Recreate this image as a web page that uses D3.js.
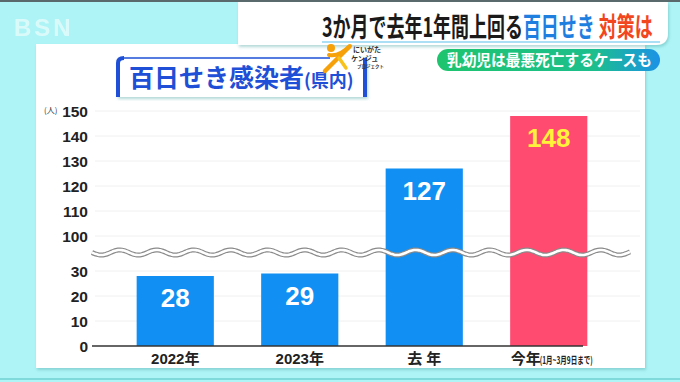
<!DOCTYPE html>
<html>
<head>
<meta charset="utf-8">
<script src="https://cdn.jsdelivr.net/npm/d3@7"></script>
<style>
  body { margin: 0; background: #aef4f6; overflow: hidden; }
  svg { display: block; }
  .num { font-family: "Liberation Sans", "Noto Sans CJK JP", sans-serif; font-weight: bold; }
  .jp { font-family: "Noto Sans CJK JP", sans-serif; font-weight: bold; }
</style>
</head>
<body>
<script>
// data
const years = ['2022年', '2023年', '去 年', '今年'];
const cases = [28, 29, 127, 148];
const lowTicks = [0, 10, 20, 30];
const highTicks = [100, 110, 120, 130, 140, 150];
const yearNote = '(1月~3月9日まで)';

const W = 680, H = 382;

let svg = d3.select('body').append('svg')
    .attr('width', W)
    .attr('height', H)

/** background bits */
svg.append('rect').attr('width', W).attr('height', H).attr('fill', '#aef4f6')
svg.append('rect').attr('width', W).attr('height', 2).attr('fill', '#5a6a6c')
svg.append('rect').attr('y', 378).attr('width', W).attr('height', 2).attr('fill', '#7fdadc')

svg.append('text')
    .attr('x', 14).attr('y', 36)
    .attr('class', 'num')
    .style('font-size', '24px')
    .style('letter-spacing', '3px')
    .attr('fill', '#ffffff').attr('opacity', 0.55)
    .text('BSN')

let defs = svg.append('defs')
let sh = defs.append('filter').attr('id', 'shadow').attr('x', '-5%').attr('y', '-5%').attr('width', '110%').attr('height', '115%')
sh.append('feDropShadow').attr('dx', 1).attr('dy', 2).attr('stdDeviation', 1.5).attr('flood-color', '#5aa').attr('flood-opacity', 0.45)

/** main white panel */
svg.append('rect')
    .attr('x', 36).attr('y', 44)
    .attr('width', 609).attr('height', 324)
    .attr('fill', '#fff')
    .attr('filter', 'url(#shadow)')

/** header box top right */
svg.append('path')
    .attr('d', 'M238,2 H668 V33 Q668,45 656,45 H238 Z')
    .attr('fill', '#fff')
    .attr('filter', 'url(#shadow)')
svg.append('line')
    .attr('x1', 322).attr('x2', 660).attr('y1', 42).attr('y2', 42)
    .attr('stroke', '#8fd4f2').attr('stroke-width', 1.5)

/** fit a text element horizontally into a width */
function fitText(sel, x, y, width) {
    let w = sel.node().getComputedTextLength()
    sel.attr('transform', `translate(${x},${y}) scale(${width / w},1)`)
}

let head = svg.append('text').attr('class', 'jp').style('font-size', '27px')
head.append('tspan').attr('fill', '#1a1a1a').text('3か月で去年1年間上回る')
head.append('tspan').attr('fill', '#1f7fe0').text('百日せき')
head.append('tspan').attr('fill', '#1a1a1a').text(' ')
head.append('tspan').attr('fill', '#f2461e').text('対策は')
fitText(head, 322, 37, 331)

/** green pill */
let grad = defs.append('linearGradient').attr('id', 'pill')
grad.append('stop').attr('offset', '0%').attr('stop-color', '#1fc46e')
grad.append('stop').attr('offset', '70%').attr('stop-color', '#1cbf8c')
grad.append('stop').attr('offset', '100%').attr('stop-color', '#1b92e6')
svg.append('rect')
    .attr('x', 437).attr('y', 49)
    .attr('width', 223).attr('height', 22)
    .attr('rx', 11)
    .attr('fill', 'url(#pill)')
let pillText = svg.append('text').attr('class', 'jp')
    .style('font-size', '15.5px').attr('fill', '#fff')
    .text('乳幼児は最悪死亡するケースも')
fitText(pillText, 447, 65.5, 205)

/** title box */
let tg = svg.append('g')
tg.append('rect')
    .attr('x', 117).attr('y', 57).attr('width', 250).attr('height', 40)
    .attr('fill', '#fff').attr('filter', 'url(#shadow)')
tg.append('path')
    .attr('d', 'M119,97 V63 Q119,58 124,58 H330')
    .attr('fill', 'none').attr('stroke', '#1e4fd6').attr('stroke-width', 1.5)
tg.append('path')
    .attr('d', 'M118,97 V63 Q118,58 124,58')
    .attr('fill', 'none').attr('stroke', '#1e4fd6').attr('stroke-width', 4)
tg.append('rect')
    .attr('x', 363).attr('y', 58).attr('width', 4).attr('height', 39)
    .attr('fill', '#1e4fd6')
let title = tg.append('text').attr('x', 129).attr('y', 87).attr('class', 'jp').attr('fill', '#1e4fd6')
title.append('tspan').style('font-size', '25px').text('百日せき感染者')
title.append('tspan').style('font-size', '18px').text('(県内)')

/** little orange logo */
let logo = tg.append('g').attr('stroke-linecap', 'round').attr('fill', 'none')
logo.append('circle').attr('cx', 331).attr('cy', 48).attr('r', 4).attr('fill', '#f6a10a')
logo.append('path').attr('d', 'M329,55 Q339,57 350,46').attr('stroke', '#f6a10a').attr('stroke-width', 4)
logo.append('path').attr('d', 'M349,47 Q338,58 325,71').attr('stroke', '#f6a10a').attr('stroke-width', 4.5)
logo.append('path').attr('d', 'M339,58 L346,68').attr('stroke', '#f7c21a').attr('stroke-width', 3.5)
tg.append('text').attr('x', 353).attr('y', 52).attr('class', 'jp').style('font-size', '7px').attr('fill', '#333').text('にいがた')
tg.append('text').attr('x', 351).attr('y', 61).attr('class', 'jp').style('font-size', '7px').attr('fill', '#333').text('ケンジュ')
tg.append('text').attr('x', 357).attr('y', 68).attr('class', 'jp').style('font-size', '4.5px').attr('fill', '#333').text('プロジェクト')

/** scales - broken axis, two linear pieces */
let x = d3.scaleBand()
    .domain(years)
    .range([113, 611])
    .paddingInner(0.38)
    .paddingOuter(0.19)

let yLow = d3.scaleLinear().domain([0, 37]).range([346, 253.5])
let yHigh = d3.scaleLinear().domain([93, 150]).range([253.5, 111])
let y = v => v <= 37 ? yLow(v) : yHigh(v)

let allTicks = lowTicks.concat(highTicks)

/** faint grid */
svg.selectAll('line.grid')
    .data(allTicks.filter(t => t > 0))
    .enter().append('line')
    .attr('class', 'grid')
    .attr('x1', 95).attr('x2', 640)
    .attr('y1', d => y(d)).attr('y2', d => y(d))
    .attr('stroke', '#f0f0f0')

/** bars */
svg.selectAll('rect.bar')
    .data(cases)
    .enter().append('rect')
    .attr('class', 'bar')
    .attr('x', (d, i) => x(years[i]))
    .attr('width', x.bandwidth())
    .attr('y', d => y(d))
    .attr('height', d => y(0) - y(d))
    .attr('fill', (d, i) => i === cases.length - 1 ? '#ff4b6f' : '#118ff2')

/** wavy break */
let waveY = 252.5
let wave = d3.line()
    .x(d => d)
    .y(d => waveY + 2.6 * Math.sin((d - 92) / 37 * 2 * Math.PI))
    .curve(d3.curveBasis)
let wx = d3.range(92, 631, 2)
svg.append('path').attr('d', wave(wx)).attr('fill', 'none').attr('stroke', '#8a8a8a').attr('stroke-width', 5)
svg.append('path').attr('d', wave(wx)).attr('fill', 'none').attr('stroke', '#fff').attr('stroke-width', 2.6)

/** baseline */
svg.append('line')
    .attr('x1', 92).attr('x2', 583)
    .attr('y1', y(0)).attr('y2', y(0))
    .attr('stroke', '#333').attr('stroke-width', 1.5)

/** y tick labels */
svg.selectAll('text.tick')
    .data(allTicks)
    .enter().append('text')
    .attr('class', 'tick num')
    .attr('x', 88)
    .attr('y', d => y(d) + 5.5)
    .attr('text-anchor', 'end')
    .style('font-size', '15.5px')
    .attr('fill', '#222')
    .text(d => d)

svg.append('text')
    .attr('x', 44).attr('y', 113)
    .attr('class', 'jp')
    .style('font-size', '8px').style('font-weight', 'normal')
    .attr('fill', '#333')
    .text('(人)')

/** value labels */
svg.selectAll('text.val')
    .data(cases)
    .enter().append('text')
    .attr('class', 'val num')
    .attr('x', (d, i) => x(years[i]) + x.bandwidth() / 2)
    .attr('y', d => y(d) + 31)
    .attr('text-anchor', 'middle')
    .style('font-size', '26px')
    .attr('fill', (d, i) => i === cases.length - 1 ? '#fff23a' : '#fff')
    .text(d => d)

/** x labels - last one gets its note squeezed after it */
let last = years[years.length - 1]
svg.selectAll('text.xl')
    .data(years)
    .enter().append('text')
    .attr('class', 'xl num')
    .attr('x', d => x(d) + x.bandwidth() / 2 + (d === last ? -23 : 0))
    .attr('y', 364)
    .attr('text-anchor', 'middle')
    .style('font-size', '15px')
    .style('white-space', 'pre')
    .attr('fill', '#222')
    .text(d => d)

svg.append('text')
    .attr('class', 'jp')
    .attr('x', x(last) + x.bandwidth() / 2 - 9)
    .attr('y', 363.5)
    .style('font-size', '10px')
    .attr('textLength', 53)
    .attr('lengthAdjust', 'spacingAndGlyphs')
    .attr('fill', '#222')
    .text(yearNote)
</script>
</body>
</html>
